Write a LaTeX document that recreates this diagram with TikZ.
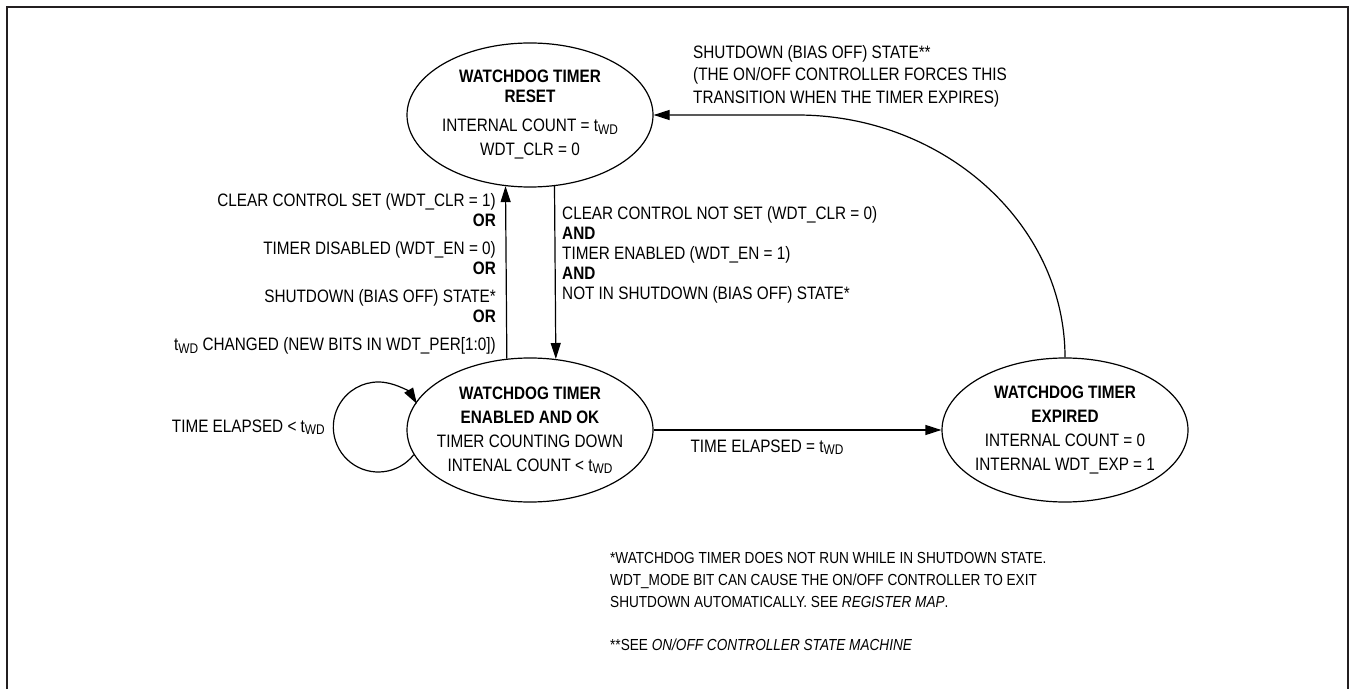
\documentclass[tikz,border=0pt]{standalone}
\usepackage{fontspec}
\setmainfont{Liberation Sans}[FakeStretch=0.85]
\usetikzlibrary{arrows.meta,shapes.geometric}
\definecolor{framecol}{HTML}{231F20}
\newcommand{\twd}{t\raisebox{-2.5pt}{\fontsize{14}{14}\selectfont WD}}
\begin{document}
\begin{tikzpicture}[x=1pt,y=1pt,
  state/.style={draw, ellipse, line width=1.2pt, minimum width=246pt, minimum height=144pt, inner xsep=-25pt, inner ysep=-4pt, align=center, font=\fontsize{18}{24}\selectfont},
  lbl/.style={inner sep=0pt, font=\fontsize{18}{20}\selectfont},
  arr/.style={line width=1.2pt, -{Triangle[length=16pt,width=10pt]}}]
\useasboundingbox (0,0) rectangle (1351,689);
\draw[line width=2pt, color=framecol] (7,0) -- (7,682) -- (1348,682) -- (1348,0);

\node[state, font=\fontsize{18}{20}\selectfont] (e1) at (530,574) {\textbf{WATCHDOG TIMER}\\ \textbf{RESET}\\[9pt] INTERNAL COUNT = \twd\\[4pt] WDT\_CLR = 0};
\node[state] (e2) at (530,259) {\textbf{WATCHDOG TIMER}\\ \textbf{ENABLED AND OK}\\ TIMER COUNTING DOWN\\ INTENAL COUNT < \twd};
\node[state] (e3) at (1065,259) {\textbf{WATCHDOG TIMER}\\ \textbf{EXPIRED}\\ INTERNAL COUNT = 0\\ INTERNAL WDT\_EXP = 1};

\draw[arr] (e2.108.8) -- (e1.251.2);
\draw[arr] (e1.289.5) -- (e2.70.5);
\draw[arr] (e2.east) -- (e3.west);
\coordinate (bend) at (797,574);
\draw[arr] (e3.north) .. controls (1065,465) and (944,574) .. (bend) -- (e1.east);
\draw[arr] (e2.192) arc[start angle=-38, end angle=-329, radius=45];

\node[lbl, align=right, anchor=east] (lc) at (496,415) {CLEAR CONTROL SET (WDT\_CLR = 1)\\ \textbf{OR}\\[8pt] TIMER DISABLED (WDT\_EN = 0)\\ \textbf{OR}\\[8pt] SHUTDOWN (BIAS OFF) STATE*\\ \textbf{OR}\\[8pt] \twd{} CHANGED (NEW BITS IN WDT\_PER[1:0])};
\node[lbl, align=left, anchor=west] (rc) at (562,434) {CLEAR CONTROL NOT SET (WDT\_CLR = 0)\\ \textbf{AND}\\ TIMER ENABLED (WDT\_EN = 1)\\ \textbf{AND}\\ NOT IN SHUTDOWN (BIAS OFF) STATE*};
\node[lbl, align=left, anchor=west, font=\fontsize{18}{22.5}\selectfont] (tl) at (693,613) {SHUTDOWN (BIAS OFF) STATE**\\ (THE ON/OFF CONTROLLER FORCES THIS\\ TRANSITION WHEN THE TIMER EXPIRES)};
\node[lbl, anchor=east] (loopl) at (325,262) {TIME ELAPSED < \twd};
\node[lbl] (hl) at (767,242) {TIME ELAPSED = \twd};
\node[lbl, align=left, anchor=west, font=\fontsize{16}{21.75}\selectfont] (note) at (610,87.5) {*WATCHDOG TIMER DOES NOT RUN WHILE IN SHUTDOWN STATE.\\ WDT\_MODE BIT CAN CAUSE THE ON/OFF CONTROLLER TO EXIT\\ SHUTDOWN AUTOMATICALLY. SEE \textit{REGISTER MAP}.\\[21.75pt] **SEE \textit{ON/OFF CONTROLLER STATE MACHINE}};
\end{tikzpicture}
\end{document}
